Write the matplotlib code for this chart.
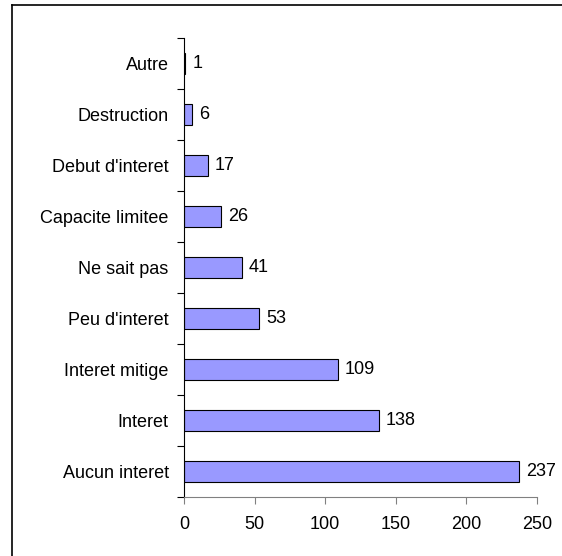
import matplotlib
matplotlib.use("Agg")
import matplotlib.pyplot as plt
import numpy as np
from matplotlib.lines import Line2D

categories = ["Aucun interet", "Interet", "Interet mitige", "Peu d'interet", "Ne sait pas",
              "Capacite limitee", "Debut d'interet", "Destruction", "Autre"]
values = [237, 138, 109, 53, 41, 26, 17, 6, 1]
xticks = [0, 50, 100, 150, 200, 250]

plt.rcParams['font.family'] = ['Liberation Sans', 'DejaVu Sans']
fs = 13

fig = plt.figure(figsize=(5.62, 5.56), dpi=100)
W, H = 562, 556
ax = fig.add_axes([184 / W, 1 - 497 / H, (537 - 184) / W, (497 - 38) / H])

y = np.arange(len(categories))
ax.barh(y, values, height=0.41, color="#9999FF", edgecolor="black", linewidth=0.8)
for yi, v in zip(y, values):
    ax.text(v + 7 * 250 / 353, yi, str(v), va="center", ha="left", fontsize=fs)

ax.set_xlim(0, 250)
ax.set_ylim(-0.5, len(categories) - 0.5)
ax.set_xticks(xticks)
ax.set_xticklabels([str(t) for t in xticks], fontsize=fs)
ax.set_yticks(y)
ax.set_yticklabels(categories, fontsize=fs)
ax.set_yticks(np.arange(len(categories) + 1) - 0.5, minor=True)
ax.tick_params(axis="y", which="major", length=0, pad=11)
ax.tick_params(axis="y", which="minor", length=5, width=0.8, color="black")
ax.tick_params(axis="x", which="major", length=5, width=0.8, color="#808080", pad=9)

for s in ["top", "right"]:
    ax.spines[s].set_visible(False)
ax.spines["left"].set_color("black")
ax.spines["left"].set_linewidth(0.8)
ax.spines["bottom"].set_color("#808080")
ax.spines["bottom"].set_linewidth(0.8)

# figure frame (left and top edges visible)
fig.lines.append(Line2D([11.5 / W, 11.5 / W], [0, 1 - 4.5 / H], transform=fig.transFigure,
                        color="black", linewidth=1.2))
fig.lines.append(Line2D([11.5 / W, 1], [1 - 4.5 / H, 1 - 4.5 / H], transform=fig.transFigure,
                        color="black", linewidth=1.2))

fig.savefig("out.png", dpi=100)
